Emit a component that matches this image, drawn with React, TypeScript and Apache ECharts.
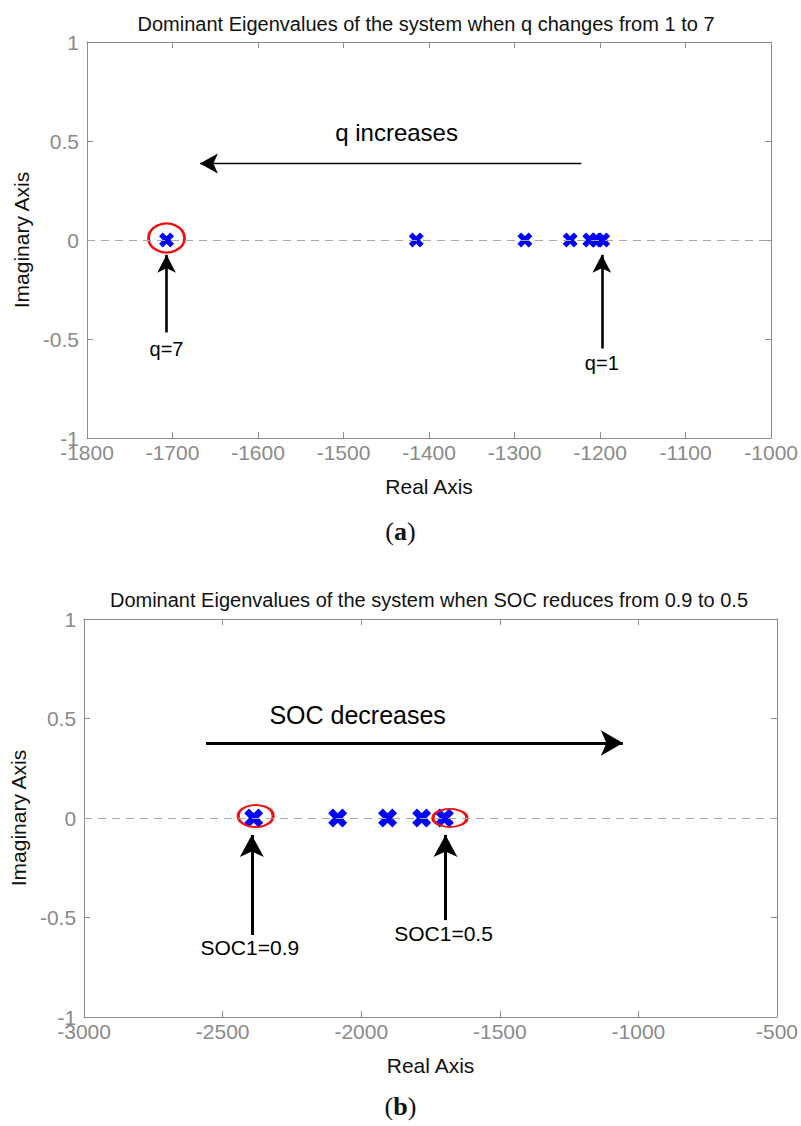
import React, { useEffect, useRef } from "react";
import * as echarts from "echarts";

// ---- Data ----
const titleA = "Dominant Eigenvalues of the system when q changes from 1 to 7";
const titleB = "Dominant Eigenvalues of the system when SOC reduces from 0.9 to 0.5";
const xTicksA = { min: -1800, max: -1000, interval: 100 };
const xTicksB = { min: -3000, max: -500, interval: 500 };
const yTicks = { min: -1, max: 1, interval: 0.5 };

// eigenvalues (real, imag) for q = 1..7 (right to left)
const eigA_real = [-1707, -1415, -1288, -1235, -1212, -1204, -1197];
const eigA_imag = [0, 0, 0, 0, 0, 0, 0];
// eigenvalues for SOC = 0.9 .. 0.5
const eigB_real = [-2388, -2085, -1905, -1782, -1700];
const eigB_imag = [0, 0, 0, 0, 0];

// highlight ellipses [x, y, w, h]
const ellipsesA = [[-1707, 0.01, 36, 29]];
const ellipsesB = [
  [-2381, 0.01, 35, 22],
  [-1680, 0.0, 34, 18],
];

// annotation arrows [x1, y1, x2, y2]
const arrowsA = [
  [-1707, -0.467, -1707, -0.075],
  [-1198, -0.548, -1198, -0.075],
];
const arrowHorizA = [-1222, 0.386, -1668, 0.386];
const arrowsB = [
  [-2395, -0.588, -2395, -0.085],
  [-1696, -0.513, -1696, -0.085],
];
const arrowHorizB = [-2560, 0.377, -1056, 0.377];

// annotation labels
const labelsA = [
  { name: "q=7", value: [-1707, -0.548] },
  { name: "q=1", value: [-1198, -0.62] },
];
const bigLabelA = { name: "q increases", value: [-1438, 0.543] };
const labelsB = [
  { name: "SOC1=0.9", value: [-2402, -0.653] },
  { name: "SOC1=0.5", value: [-1703, -0.578] },
];
const bigLabelB = { name: "SOC decreases", value: [-2013, 0.518] };

const XMARK = "path://M0,2.5L2.5,0L5,2.5L7.5,0L10,2.5L7.5,5L10,7.5L7.5,10L5,7.5L2.5,10L0,7.5L2.5,5Z";
const FONT = "'Liberation Sans', Arial, sans-serif";
const GRAY = "#8c8c8c";

function axesFor(gridIndex: number, xr: any) {
  const common = {
    gridIndex,
    axisLine: { show: true, onZero: false, lineStyle: { color: GRAY, width: 1 } },
    splitLine: { show: false },
  };
  const fmt = (v: number) => String(v);
  const xAxes = [
    {
      ...common,
      type: "value",
      position: "bottom",
      min: xr.min,
      max: xr.max,
      interval: xr.interval,
      axisTick: { show: true, inside: true, length: 6, lineStyle: { color: GRAY } },
      axisLabel: { color: "#8a8a8a", fontSize: 21, fontFamily: FONT, margin: 4, formatter: fmt },
      name: "Real Axis",
      nameLocation: "middle",
      nameGap: 38,
      nameTextStyle: { color: "#111", fontSize: 21, fontFamily: FONT },
    },
    {
      ...common,
      type: "value",
      position: "top",
      min: xr.min,
      max: xr.max,
      interval: xr.interval,
      axisTick: { show: true, inside: true, length: 6, lineStyle: { color: GRAY } },
      axisLabel: { show: false },
    },
  ];
  const yAxes = [
    {
      ...common,
      type: "value",
      position: "left",
      min: yTicks.min,
      max: yTicks.max,
      interval: yTicks.interval,
      axisTick: { show: true, inside: true, length: 6, lineStyle: { color: GRAY } },
      axisLabel: { color: "#8a8a8a", fontSize: 21, fontFamily: FONT, margin: 8, formatter: fmt },
      name: "Imaginary Axis",
      nameLocation: "middle",
      nameGap: 49,
      nameTextStyle: { color: "#111", fontSize: 21, fontFamily: FONT },
    },
    {
      ...common,
      type: "value",
      position: "right",
      min: yTicks.min,
      max: yTicks.max,
      interval: yTicks.interval,
      axisTick: { show: true, inside: true, length: 6, lineStyle: { color: GRAY } },
      axisLabel: { show: false },
    },
  ];
  return { xAxes, yAxes };
}

function seriesFor(
  xi: number,
  yi: number,
  re: number[],
  im: number[],
  markSize: number,
  ellipses: number[][],
  arrows: number[][],
  horiz: number[],
  vertWidth: number,
  vertHead: number[],
  horizWidth: number,
  horizHead: number[],
  labels: any[],
  labelSize: number,
  bigLabel: any,
  bigSize: number
) {
  const arrowLine = (a: number[], w: number, head: number[]) => [
    { coord: [a[0], a[1]], symbol: "none", lineStyle: { color: "#000", width: w, type: "solid", opacity: 1 } },
    { coord: [a[2], a[3]], symbol: "arrow", symbolSize: head },
  ];
  return [
    {
      type: "scatter",
      xAxisIndex: xi,
      yAxisIndex: yi,
      data: [],
      z: 1,
      silent: true,
      markLine: {
        silent: true,
        symbol: "none",
        label: { show: false },
        lineStyle: { color: "#a6a6a6", type: [8, 6], width: 1.2, opacity: 1 },
        data: [{ yAxis: 0 }],
      },
    },
    {
      type: "scatter",
      xAxisIndex: xi,
      yAxisIndex: yi,
      symbol: XMARK,
      symbolSize: markSize,
      itemStyle: { color: "#0000ff", opacity: 1 },
      data: re.map((r, i) => [r, im[i]]),
      z: 3,
    },
    {
      type: "scatter",
      xAxisIndex: xi,
      yAxisIndex: yi,
      symbol: "circle",
      z: 4,
      silent: true,
      data: ellipses.map((e) => ({
        value: [e[0], e[1]],
        symbolSize: [e[2], e[3]],
      })),
      itemStyle: { color: "rgba(0,0,0,0)", borderColor: "#ee1111", borderWidth: 2.5, opacity: 1 },
    },
    {
      type: "scatter",
      xAxisIndex: xi,
      yAxisIndex: yi,
      symbolSize: 0,
      z: 5,
      silent: true,
      itemStyle: { opacity: 1 },
      data: [
        ...labels.map((l) => ({ ...l, label: { fontSize: labelSize } })),
        { ...bigLabel, label: { fontSize: bigSize } },
      ],
      label: {
        show: true,
        position: "inside",
        formatter: "{b}",
        color: "#000",
        fontFamily: FONT,
      },
      markLine: {
        silent: true,
        label: { show: false },
        itemStyle: { color: "#000" },
        data: [
          ...arrows.map((a) => arrowLine(a, vertWidth, vertHead)),
          arrowLine(horiz, horizWidth, horizHead),
        ],
      },
    },
  ];
}

export default function App() {
  const ref = useRef<HTMLDivElement>(null);
  useEffect(() => {
    if (!ref.current) return;
    const chart = echarts.init(ref.current, undefined, { renderer: "svg" });
    const a = axesFor(0, xTicksA);
    const b = axesFor(1, xTicksB);
    const xAxis = [...a.xAxes, ...b.xAxes];
    const yAxis = [...a.yAxes, ...b.yAxes];
    const series = [
      ...seriesFor(0, 0, eigA_real, eigA_imag, 15, ellipsesA, arrowsA, arrowHorizA, 2.6, [14, 18], 1.3, [15, 18], labelsA, 20, bigLabelA, 24),
      ...seriesFor(2, 2, eigB_real, eigB_imag, 19, ellipsesB, arrowsB, arrowHorizB, 3, [18, 22], 3, [19, 22], labelsB, 21, bigLabelB, 25),
    ];
    const serif = "'Liberation Serif', 'DejaVu Serif', serif";
    chart.setOption({
      animation: false,
      backgroundColor: "#ffffff",
      title: [
        {
          text: titleA,
          left: 421,
          top: 9,
          textAlign: "center",
          textStyle: { fontSize: 20, fontWeight: "normal", color: "#111", fontFamily: FONT },
        },
        {
          text: titleB,
          left: 424,
          top: 585,
          textAlign: "center",
          textStyle: { fontSize: 20, fontWeight: "normal", color: "#111", fontFamily: FONT },
        },
      ],
      grid: [
        { left: 87, top: 42, width: 687, height: 396, containLabel: false },
        { left: 83, top: 619, width: 694, height: 398, containLabel: false },
      ],
      xAxis,
      yAxis,
      series,
      graphic: [
        {
          type: "text",
          left: "center",
          top: 518,
          style: {
            text: "{p|(}{b|a}{p|)}",
            rich: {
              p: { fontFamily: serif, fontSize: 26, fill: "#111" },
              b: { fontFamily: serif, fontSize: 26, fontWeight: "bold", fill: "#111" },
            },
          },
        },
        {
          type: "text",
          left: "center",
          top: 1093,
          style: {
            text: "{p|(}{b|b}{p|)}",
            rich: {
              p: { fontFamily: serif, fontSize: 26, fill: "#111" },
              b: { fontFamily: serif, fontSize: 26, fontWeight: "bold", fill: "#111" },
            },
          },
        },
      ],
    });
    return () => chart.dispose();
  }, []);
  return (
    <div
      ref={ref}
      style={{ position: "absolute", left: 0, top: 0, width: 801, height: 1126, background: "#fff" }}
    />
  );
}
